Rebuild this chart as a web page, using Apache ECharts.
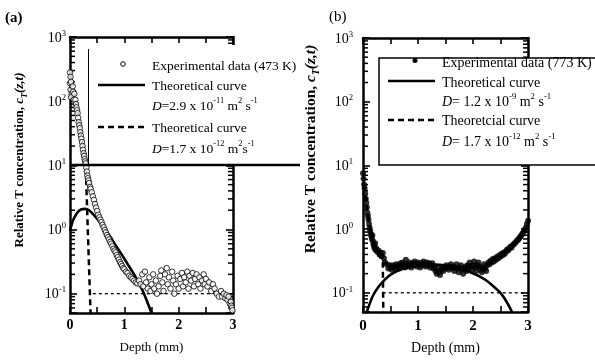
<!DOCTYPE html>
<html><head><meta charset="utf-8">
<script src="https://cdn.jsdelivr.net/npm/echarts@6/dist/echarts.min.js"></script>
<style>html,body{margin:0;padding:0;background:#fff}#c{width:595px;height:360px}</style>
</head><body><div id="c"></div>
<script>
// ---------- data ----------
const xTickLabels = [0, 1, 2, 3];
const yDecades = [-1, 0, 1, 2, 3];
const minorTickVals = [0.06,0.07,0.08,0.09,0.2,0.3,0.4,0.5,0.6,0.7,0.8,0.9,2,3,4,5,6,7,8,9,20,30,40,50,60,70,80,90,200,300,400,500,600,700,800,900];

// Panel (a): 473 K
const expA = [[0.00,280],[0.01,240],[0.00,190],[0.02,200],[0.01,150],[0.03,130],[0.02,115],[0.05,170],[0.06,140],[0.08,130],[0.07,105],[0.10,105],[0.11,90],[0.12,80],[0.13,72],[0.14,65],[0.15,55],[0.16,47],[0.17,42],[0.18,38],[0.19,33],[0.20,29],[0.21,26],[0.22,23],[0.23,20],[0.24,17.5],[0.25,15.4],[0.26,14],[0.27,12.5],[0.28,11.5],[0.29,10.7],[0.30,9.2],[0.31,8],[0.32,6.9],[0.33,6.3],[0.34,5.8],[0.35,5.3],[0.37,4.6],[0.38,4.3],[0.40,3.8],[0.42,3.3],[0.44,2.9],[0.46,2.5],[0.48,2.2],[0.50,1.95],[0.52,1.7],[0.54,1.55],[0.56,1.42],[0.58,1.3],[0.60,1.18],[0.62,1.08],[0.64,0.98],[0.66,0.9],[0.68,0.82],[0.70,0.76],[0.72,0.7],[0.74,0.64],[0.76,0.6],[0.78,0.55],[0.80,0.5],[0.82,0.47],[0.84,0.44],[0.86,0.4],[0.88,0.37],[0.90,0.34],[0.92,0.31],[0.94,0.29],[0.96,0.27],[0.98,0.25],[1.00,0.24],[1.03,0.22],[1.06,0.21],[1.09,0.19],[1.12,0.18],[1.15,0.17],[1.18,0.16],[1.21,0.15],[1.24,0.145],[1.27,0.16],[1.30,0.14],[1.33,0.2],[1.35,0.13],[1.38,0.22],[1.40,0.15],[1.43,0.12],[1.46,0.18],[1.48,0.11],[1.50,0.14],[1.53,0.2],[1.55,0.12],[1.58,0.16],[1.60,0.1],[1.63,0.13],[1.66,0.19],[1.68,0.23],[1.70,0.15],[1.72,0.11],[1.75,0.2],[1.78,0.25],[1.80,0.14],[1.82,0.18],[1.85,0.12],[1.88,0.22],[1.90,0.16],[1.92,0.1],[1.95,0.14],[1.98,0.19],[2.00,0.12],[2.03,0.17],[2.06,0.21],[2.08,0.13],[2.10,0.18],[2.13,0.15],[2.16,0.22],[2.18,0.12],[2.20,0.19],[2.23,0.16],[2.26,0.21],[2.28,0.13],[2.30,0.17],[2.33,0.2],[2.36,0.14],[2.38,0.18],[2.40,0.12],[2.43,0.16],[2.46,0.2],[2.48,0.14],[2.50,0.17],[2.53,0.13],[2.56,0.15],[2.60,0.11],[2.63,0.14],[2.66,0.12],[2.70,0.1],[2.74,0.09],[2.78,0.11],[2.80,0.09],[2.83,0.1],[2.86,0.085],[2.88,0.095],[2.90,0.08],[2.92,0.09],[2.94,0.07],[2.96,0.075],[2.97,0.065],[2.98,0.06],[2.99,0.055]];
const solidA = [[0,0.95],[0.05,1.35],[0.1,1.65],[0.15,1.9],[0.2,2.05],[0.28,2.1],[0.35,2.0],[0.45,1.65],[0.55,1.3],[0.65,1.0],[0.75,0.75],[0.85,0.55],[0.95,0.41],[1.05,0.3],[1.15,0.22],[1.25,0.155],[1.35,0.105],[1.42,0.075],[1.5,0.05]];
const dashedA = [[0,300],[0.1,110],[0.2,30],[0.26,14],[0.29,9.3],[0.38,0.045]];
const levelA = [[0.42,0.1],[3,0.1]];

// Panel (b): 773 K
const expB = [[0.00,7.5],[0.01,6.2],[0.02,5.0],[0.03,4.4],[0.04,3.6],[0.05,3.0],[0.06,2.6],[0.07,2.2],[0.08,1.8],[0.09,1.6],[0.10,1.4],[0.11,1.2],[0.12,1.05],[0.13,0.95],[0.14,0.85],[0.15,0.78],[0.16,0.7],[0.17,0.8],[0.18,0.65],[0.19,0.58],[0.20,0.55],[0.21,0.5],[0.22,0.6],[0.23,0.47],[0.24,0.5],[0.26,0.44],[0.28,0.46],[0.30,0.4],[0.32,0.43],[0.34,0.38],[0.36,0.42],[0.38,0.35],[0.40,0.3],[0.43,0.28],[0.46,0.24],[0.48,0.27],[0.50,0.25],[0.52,0.23],[0.54,0.27],[0.56,0.26],[0.58,0.24],[0.60,0.28],[0.62,0.25],[0.64,0.27],[0.66,0.24],[0.68,0.29],[0.70,0.26],[0.72,0.3],[0.74,0.27],[0.76,0.25],[0.78,0.33],[0.80,0.28],[0.82,0.26],[0.84,0.3],[0.86,0.27],[0.88,0.25],[0.90,0.29],[0.92,0.27],[0.94,0.31],[0.96,0.28],[0.98,0.26],[1.00,0.3],[1.02,0.28],[1.04,0.25],[1.06,0.29],[1.08,0.27],[1.10,0.31],[1.12,0.28],[1.14,0.26],[1.16,0.3],[1.18,0.27],[1.20,0.29],[1.22,0.25],[1.24,0.27],[1.26,0.29],[1.28,0.24],[1.30,0.26],[1.32,0.22],[1.34,0.2],[1.36,0.24],[1.38,0.21],[1.40,0.19],[1.42,0.23],[1.44,0.25],[1.46,0.22],[1.48,0.26],[1.50,0.24],[1.52,0.27],[1.54,0.25],[1.56,0.23],[1.58,0.26],[1.60,0.28],[1.62,0.24],[1.64,0.26],[1.66,0.22],[1.68,0.25],[1.70,0.28],[1.72,0.24],[1.74,0.21],[1.76,0.25],[1.78,0.27],[1.80,0.23],[1.82,0.2],[1.84,0.24],[1.86,0.26],[1.88,0.22],[1.90,0.27],[1.92,0.24],[1.94,0.3],[1.96,0.26],[1.98,0.23],[2.00,0.27],[2.02,0.31],[2.04,0.25],[2.06,0.22],[2.08,0.27],[2.10,0.3],[2.12,0.26],[2.14,0.23],[2.16,0.21],[2.18,0.25],[2.20,0.28],[2.22,0.24],[2.24,0.22],[2.26,0.27],[2.28,0.3],[2.30,0.28],[2.32,0.32],[2.34,0.3],[2.36,0.34],[2.38,0.31],[2.40,0.35],[2.42,0.33],[2.44,0.37],[2.46,0.35],[2.48,0.39],[2.50,0.37],[2.52,0.41],[2.54,0.39],[2.56,0.43],[2.58,0.41],[2.60,0.45],[2.62,0.48],[2.64,0.46],[2.66,0.5],[2.68,0.53],[2.70,0.51],[2.72,0.56],[2.74,0.58],[2.76,0.6],[2.78,0.63],[2.80,0.66],[2.82,0.68],[2.84,0.72],[2.86,0.76],[2.88,0.8],[2.90,0.85],[2.92,0.9],[2.94,0.98],[2.96,1.05],[2.98,1.2],[3.00,1.35]];
const solidB = [[0.05,0.045],[0.1,0.06],[0.18,0.09],[0.27,0.12],[0.38,0.155],[0.49,0.19],[0.65,0.225],[0.8,0.25],[1.0,0.27],[1.2,0.28],[1.4,0.275],[1.6,0.26],[1.8,0.235],[1.95,0.21],[2.1,0.185],[2.25,0.155],[2.4,0.12],[2.5,0.1],[2.6,0.075],[2.71,0.05]];
const dashedB = [[0,7],[0.1,1.4],[0.2,0.5],[0.3,0.38],[0.36,0.3],[0.37,0.04]];
const levelB = [[0.36,0.1],[3,0.1]];

// ---------- chart ----------
const FF = 'Liberation Serif, Times New Roman, serif';
const chart = echarts.init(document.getElementById('c'), null, {renderer: 'canvas'});

function xAxes(gi, labelSize, labelMargin, nameGap, nameSize) {
  const common = {
    type: 'value', gridIndex: gi, min: 0, max: 3, interval: 0.5,
    axisLine: {onZero: false, lineStyle: {color: '#000', width: 2.5}},
    axisTick: {inside: true, length: 6, lineStyle: {color: '#000', width: 1.6}},
    splitLine: {show: false}
  };
  return [
    Object.assign({}, common, {
      position: 'bottom',
      axisLabel: {
        margin: labelMargin, color: '#000', fontFamily: FF, fontSize: labelSize, fontWeight: 'bold',
        formatter: v => xTickLabels.indexOf(v) >= 0 ? String(v) : ''
      },
      name: 'Depth (mm)', nameLocation: 'middle', nameGap: nameGap,
      nameTextStyle: {color: '#000', fontFamily: FF, fontSize: nameSize}
    }),
    Object.assign({}, common, {position: 'top', axisLabel: {show: false}})
  ];
}
function yAxes(gi, labelMargin, size) {
  const common = {
    type: 'log', logBase: 10, gridIndex: gi, min: 0.05, max: 1000,
    axisLine: {onZero: false, lineStyle: {color: '#000', width: 2.5}},
    axisTick: {inside: true, length: 7, lineStyle: {color: '#000', width: 1.6}},
    splitLine: {show: false}, minorTick: {show: false}
  };
  return [
    Object.assign({}, common, {
      position: 'left',
      axisLabel: {
        margin: labelMargin, color: '#000', fontFamily: FF,
        formatter: v => {
          const e = Math.log10(v);
          const r = Math.round(e);
          if (Math.abs(e - r) > 1e-6 || yDecades.indexOf(r) < 0) return '';
          return '{n|10}{s|' + r + '}';
        },
        rich: {
          n: {fontSize: size, fontFamily: FF, color: '#000', lineHeight: 16, verticalAlign: 'bottom'},
          s: {fontSize: size * 0.62, fontFamily: FF, color: '#000', lineHeight: 7, verticalAlign: 'top'}
        }
      }
    }),
    Object.assign({}, common, {position: 'right', axisLabel: {show: false}})
  ];
}
function minorTicks(xi, yi) {
  return {
    type: 'custom', xAxisIndex: xi, yAxisIndex: yi, silent: true, clip: false, z: 3,
    data: minorTickVals.map(v => [0, v]),
    renderItem: (params, api) => {
      const v = api.value(1);
      const pL = api.coord([0, v]);
      const pR = api.coord([3, v]);
      return {type: 'group', children: [
        {type: 'line', shape: {x1: pL[0], y1: pL[1], x2: pL[0] + 5, y2: pL[1]}, style: {stroke: '#000', lineWidth: 1.5}},
        {type: 'line', shape: {x1: pR[0], y1: pR[1], x2: pR[0] - 5, y2: pR[1]}, style: {stroke: '#000', lineWidth: 1.5}}
      ]};
    }
  };
}
function seriesFor(xi, yi, exp, solid, dashed, level, hollow) {
  return [
    minorTicks(xi, yi),
    {type: 'line', xAxisIndex: xi, yAxisIndex: yi, data: level, symbol: 'none', silent: true,
     lineStyle: {color: '#000', width: 1.3, type: [3, 3]}},
    {type: 'line', xAxisIndex: xi, yAxisIndex: yi, data: dashed, symbol: 'none', silent: true,
     lineStyle: {color: '#000', width: 2.5, type: [6, 4]}},
    {type: 'line', xAxisIndex: xi, yAxisIndex: yi, data: solid, symbol: 'none', smooth: 0.3, silent: true,
     lineStyle: {color: '#000', width: 2.6}},
    {type: 'scatter', xAxisIndex: xi, yAxisIndex: yi, data: exp, symbol: 'circle', symbolSize: hollow ? 5.5 : 6, silent: true, z: 4,
     itemStyle: hollow ? {color: '#fff', borderColor: '#000', borderWidth: 1} : {color: '#000'}}
  ];
}
function rt(x, y, text, size, extra) {
  return Object.assign({type: 'text', x: x, y: y, z: 60, style: {
    text: text, fill: '#000', fontFamily: FF, fontSize: size, verticalAlign: 'middle', align: 'left',
    rich: {
      t: {fontSize: size, fontFamily: FF, fill: '#000', color: '#000', lineHeight: 17, verticalAlign: 'bottom'},
      i: {fontSize: size, fontFamily: FF, fontStyle: 'italic', color: '#000', lineHeight: 17, verticalAlign: 'bottom'},
      s: {fontSize: size * 0.62, fontFamily: FF, color: '#000', lineHeight: 8, verticalAlign: 'top'}
    }
  }}, extra || {});
}
function yTitle(x, y, size) {
  return {type: 'text', x: x, y: y, rotation: Math.PI / 2, z: 60, style: {
    text: '{b|Relative T concentration, }{i|c}{u|T}{i|(z,t)}', align: 'center', verticalAlign: 'middle',
    rich: {
      b: {fontSize: size, fontFamily: FF, fontWeight: 'bold', color: '#000', lineHeight: size + 3, verticalAlign: 'top'},
      i: {fontSize: size, fontFamily: FF, fontStyle: 'italic', fontWeight: 'bold', color: '#000', lineHeight: size + 3, verticalAlign: 'top'},
      u: {fontSize: size * 0.62, fontFamily: FF, fontStyle: 'italic', fontWeight: 'bold', color: '#000', lineHeight: size * 0.7, verticalAlign: 'bottom'}
    }
  }};
}

const graphics = [
  // panel titles
  {type: 'text', x: 5, y: 18, z: 60, style: {text: '(a)', fill: '#000', fontFamily: FF, fontSize: 15, fontWeight: 'bold', verticalAlign: 'middle'}},
  {type: 'text', x: 329, y: 17, z: 60, style: {text: '(b)', fill: '#000', fontFamily: FF, fontSize: 15, verticalAlign: 'middle'}},
  yTitle(21, 160, 13),
  yTitle(312, 149, 15.5),
  // legend (a)
  {type: 'rect', z: 50, shape: {x: 89, y: 45, width: 212, height: 119}, style: {fill: '#fff'}},
  {type: 'line', z: 55, shape: {x1: 88.5, y1: 49, x2: 88.5, y2: 165}, style: {stroke: '#000', lineWidth: 1}},
  {type: 'line', z: 55, shape: {x1: 70, y1: 165, x2: 300, y2: 165}, style: {stroke: '#000', lineWidth: 2.5}},
  {type: 'circle', z: 55, shape: {cx: 123, cy: 64, r: 2.3}, style: {fill: '#fff', stroke: '#000', lineWidth: 1}},
  {type: 'line', z: 55, shape: {x1: 98, y1: 85, x2: 145, y2: 85}, style: {stroke: '#000', lineWidth: 2.5}},
  {type: 'line', z: 55, shape: {x1: 98, y1: 127, x2: 145, y2: 127}, style: {stroke: '#000', lineWidth: 2.5, lineDash: [6, 4]}},
  rt(152, 65, '{t|Experimental data (473 K)}', 13.5),
  rt(152, 85, '{t|Theoretical curve}', 13.5),
  rt(152, 105, '{i|D}{t|=2.9 x 10}{s|-11}{t| m}{s|2}{t| s}{s|-1}', 13.5),
  rt(152, 127, '{t|Theoretical curve}', 13.5),
  rt(152, 148, '{i|D}{t|=1.7 x 10}{s|-12}{t| m}{s|2}{t|s}{s|-1}', 13.5),
  // legend (b)
  {type: 'rect', z: 50, shape: {x: 379, y: 58, width: 230, height: 107}, style: {fill: '#fff', stroke: '#000', lineWidth: 1.5}},
  {type: 'circle', z: 55, shape: {cx: 415, cy: 60.5, r: 2.5}, style: {fill: '#000'}},
  {type: 'line', z: 55, shape: {x1: 388, y1: 81, x2: 435, y2: 81}, style: {stroke: '#000', lineWidth: 2.5}},
  {type: 'line', z: 55, shape: {x1: 388, y1: 120, x2: 435, y2: 120}, style: {stroke: '#000', lineWidth: 2.5, lineDash: [6, 4]}},
  rt(442, 62, '{t|Experimental data (773 K)}', 14),
  rt(442, 82, '{t|Theoretical curve}', 14),
  rt(442, 101, '{i|D}{t|= 1.2 x 10}{s|-9}{t| m}{s|2}{t| s}{s|-1}', 14),
  rt(442, 120, '{t|Theoretcial curve}', 14),
  rt(442, 141, '{i|D}{t|= 1.7 x 10}{s|-12}{t| m}{s|2}{t| s}{s|-1}', 14)
];

chart.setOption({
  animation: false,
  backgroundColor: '#fff',
  grid: [
    {left: 70, top: 37, width: 163, height: 276},
    {left: 363, top: 38, width: 165, height: 278}
  ],
  xAxis: [].concat(xAxes(0, 14, 5, 28, 13), xAxes(1, 15, 7, 29, 14)),
  yAxis: [].concat(yAxes(0, 4, 14), yAxes(1, 10, 14)),
  series: [].concat(
    seriesFor(0, 0, expA, solidA, dashedA, levelA, true),
    seriesFor(2, 2, expB, solidB, dashedB, levelB, false)
  ),
  graphic: graphics
});
</script>
</body></html>
